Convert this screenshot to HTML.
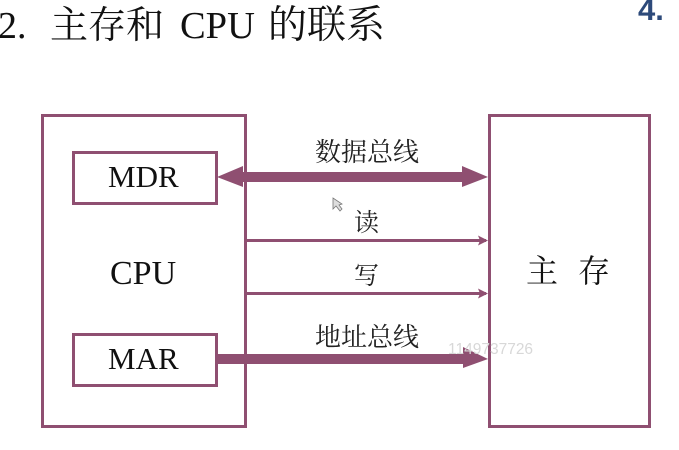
<!DOCTYPE html>
<html><head><meta charset="utf-8"><style>
html,body{margin:0;padding:0;background:#fff}
svg{display:block;filter:blur(0.35px)}
.s{font-family:"Liberation Serif","Noto Serif CJK SC",serif;fill:#111}
.c{font-family:"Noto Serif CJK SC","Noto Sans CJK SC",serif;fill:#222}
</style></head><body>
<svg width="679" height="450" viewBox="0 0 679 450" xmlns="http://www.w3.org/2000/svg">
<rect width="679" height="450" fill="#fff"/>
<text class="s" x="-2" y="38" font-size="38">2.</text>
<text class="s" x="50" y="38" font-size="38">主存和</text>
<text class="s" x="180" y="38" font-size="38.5">CPU</text>
<text class="s" x="268" y="38" font-size="39">的联系</text>
<text x="638" y="20" font-family="Liberation Sans,sans-serif" font-weight="bold" font-size="31" fill="#2d4a7a">4.</text>
<g fill="none" stroke="#8f4f71" stroke-width="3">
<rect x="42.5" y="115.5" width="203" height="311"/>
<rect x="489.5" y="115.5" width="160" height="311"/>
<rect x="73.5" y="152.5" width="143" height="51"/>
<rect x="73.5" y="334.5" width="143" height="51"/>
</g>
<g fill="#8f4f71">
<rect x="238" y="172" width="226" height="10"/>
<polygon points="217,177 243,166 243,187"/>
<polygon points="488,177 462,166 462,187"/>
<rect x="217" y="354" width="248" height="10"/>
<polygon points="488,359 463,347 463,368"/>
<rect x="246" y="239" width="240" height="3"/>
<rect x="246" y="292" width="240" height="3"/>
<polygon points="488,240.5 478,235.5 480,240.5 478,245.5"/>
<polygon points="488,293.5 478,288.5 480,293.5 478,298.5"/>
</g>
<text class="s" x="108" y="187" font-size="31">MDR</text>
<text class="s" x="108" y="369" font-size="31">MAR</text>
<text class="s" x="110" y="284" font-size="34">CPU</text>
<text class="s" x="526" y="282" font-size="32">主</text>
<text class="s" x="578" y="282" font-size="32">存</text>
<text class="c" x="315" y="161" font-size="26">数据总线</text>
<text class="c" x="354" y="231" font-size="25">读</text>
<text class="c" x="354" y="284" font-size="25">写</text>
<text class="c" x="315" y="346" font-size="26">地址总线</text>
<text x="448" y="354" font-family="Liberation Sans,sans-serif" font-size="15.5" fill="#d8d8d8">1149737726</text>
<polygon points="333,198 333,209 336,206 340,211 342,209 339,205 342,204" fill="#ddd" stroke="#777" stroke-width="0.8"/>
</svg>
</body></html>
